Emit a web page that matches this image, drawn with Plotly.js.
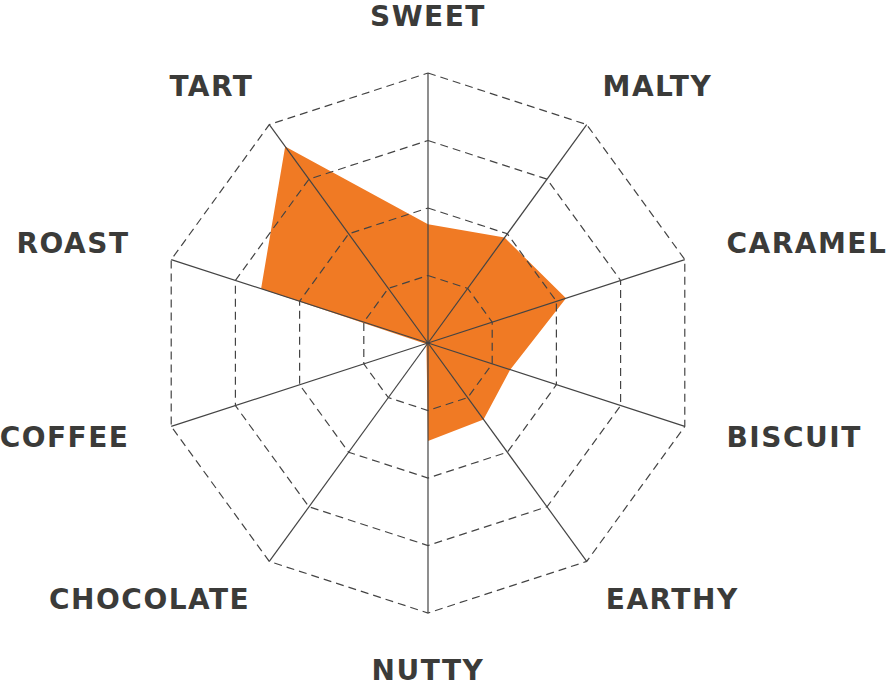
<!DOCTYPE html>
<html>
<head>
<meta charset="utf-8">
<script src="https://cdn.plot.ly/plotly-3.0.1.min.js"></script>
<style>
  html, body { margin: 0; padding: 0; background: #fff; }
  #chart { width: 888px; height: 689px; }
  #chart .textpoint text { letter-spacing: 1.5px; }
</style>
</head>
<body>
<div id="chart"></div>
<script>
const flavours = ['SWEET', 'MALTY', 'CARAMEL', 'BISCUIT', 'EARTHY', 'NUTTY', 'CHOCOLATE', 'COFFEE', 'ROAST', 'TART']
const scores = [1.76, 1.93, 2.15, 1.28, 1.4, 1.45, 0.04, 0.04, 2.6, 3.6]
const levels = [1, 2, 3, 4]

const ink = '#444444'
const rMax = 4.9      // room past the outer ring for the labels

// profile first, grid drawn as traces so it sits on top of the fill
const profile = {
  type: 'scatterpolar',
  r: scores.concat(scores[0]),
  theta: flavours.concat(flavours[0]),
  mode: 'lines',
  fill: 'toself',
  fillcolor: '#F07A24',
  line: { width: 0, color: '#F07A24' },
  hoverinfo: 'skip'
}

const rings = levels.map(lv => ({
  type: 'scatterpolar',
  r: flavours.map(() => lv).concat(lv),
  theta: flavours.concat(flavours[0]),
  mode: 'lines',
  line: { color: ink, width: 1.2, dash: '8px,5px' },
  hoverinfo: 'skip'
}))

const spokeR = []
const spokeT = []
flavours.forEach(f => {
  spokeR.push(0, levels[levels.length - 1], null)
  spokeT.push(f, f, null)
})
const spokes = {
  type: 'scatterpolar',
  r: spokeR,
  theta: spokeT,
  mode: 'lines',
  line: { color: ink, width: 1.2 },
  connectgaps: false,
  hoverinfo: 'skip'
}

// label anchor + distance from the centre, by the direction of each spoke
function placeFor(i) {
  const a = i * 360 / flavours.length
  if (a === 0) return { pos: 'top center', r: 4.59 }
  if (a === 180) return { pos: 'bottom center', r: 4.68 }
  const side = a < 180 ? 'right' : 'left'
  const d = a < 180 ? a : 360 - a
  if (d < 60) return { pos: 'top ' + side, r: 4.4 }
  if (d > 120) return { pos: 'bottom ' + side, r: 4.48 }
  return { pos: 'middle ' + side, r: 4.65 }
}
const places = flavours.map((f, i) => placeFor(i))

const labels = {
  type: 'scatterpolar',
  r: places.map(p => p.r),
  theta: flavours,
  mode: 'text',
  text: flavours,
  textposition: places.map(p => p.pos),
  textfont: { family: 'DejaVu Sans', size: 28, color: '#3b3b39', weight: 'bold' },
  cliponaxis: false,
  hoverinfo: 'skip'
}

// 67.5 px per unit, centre at (428, 343)
const half = rMax * 67.5
const layout = {
  width: 888,
  height: 689,
  margin: { l: 0, r: 0, t: 0, b: 0 },
  paper_bgcolor: '#fff',
  showlegend: false,
  polar: {
    domain: {
      x: [(428 - half) / 888, (428 + half) / 888],
      y: [1 - (343 + half) / 689, 1 - (343 - half) / 689]
    },
    gridshape: 'linear',
    bgcolor: 'rgba(0,0,0,0)',
    radialaxis: {
      range: [0, rMax],
      visible: false,
      showgrid: false
    },
    angularaxis: {
      type: 'category',
      categoryarray: flavours,
      direction: 'clockwise',
      rotation: 90,
      showgrid: false,
      showline: false,
      ticks: '',
      showticklabels: false
    }
  }
}

Plotly.newPlot('chart', [profile, ...rings, spokes, labels], layout, { staticPlot: true })
</script>
</body>
</html>
